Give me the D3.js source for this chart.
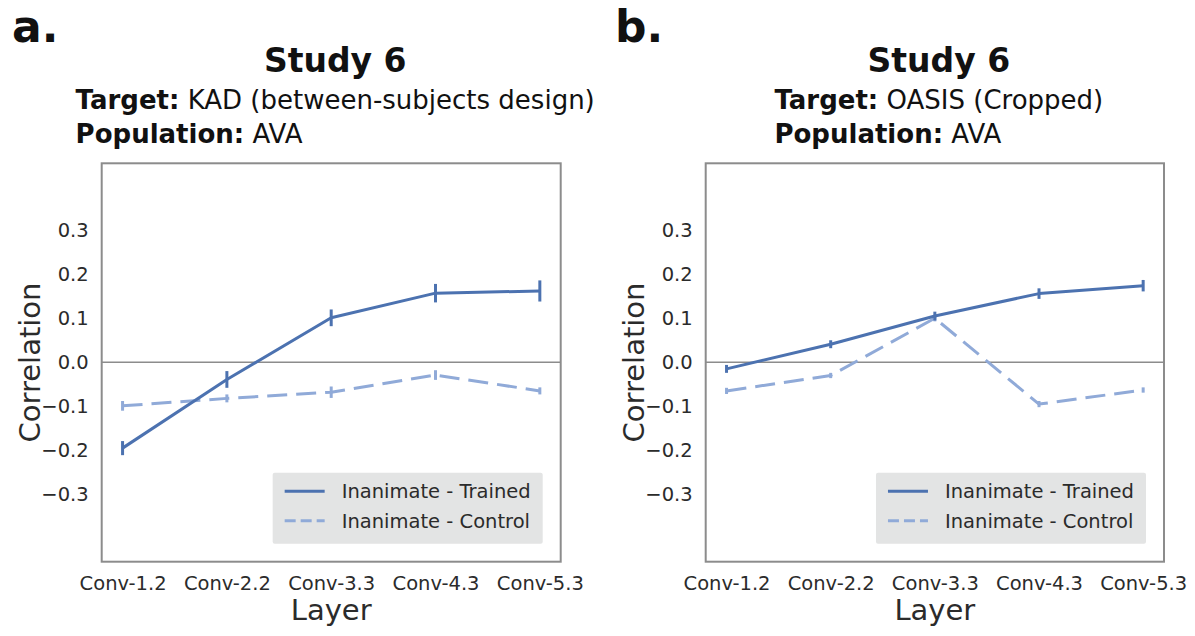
<!DOCTYPE html>
<html>
<head>
<meta charset="utf-8">
<script src="https://cdn.jsdelivr.net/npm/d3@7"></script>
<style>
  html, body { margin: 0; padding: 0; background: #fff; }
  svg { display: block; font-family: "DejaVu Sans", sans-serif; }
</style>
</head>
<body>
<svg id="fig" width="1195" height="636"></svg>
<script>
// Layers of the network on the x axis
const layers = ["Conv-1.2", "Conv-2.2", "Conv-3.3", "Conv-4.3", "Conv-5.3"];
const yTicks = [-0.3, -0.2, -0.1, 0.0, 0.1, 0.2, 0.3];

// Panel a: KAD (between-subjects design)
const aTrained    = [-0.195, -0.039, 0.101, 0.157, 0.162];
const aTrainedErr = [0.016, 0.019, 0.019, 0.021, 0.024];
const aControl    = [-0.099, -0.082, -0.068, -0.029, -0.065];
const aControlErr = [0.011, 0.009, 0.013, 0.011, 0.008];

// Panel b: OASIS (Cropped)
const bTrained    = [-0.015, 0.041, 0.105, 0.156, 0.174];
const bTrainedErr = [0.009, 0.009, 0.010, 0.012, 0.013];
const bControl    = [-0.065, -0.030, 0.100, -0.095, -0.063];
const bControlErr = [0.007, 0.006, 0.007, 0.007, 0.006];

const seriesNames = ["Inanimate - Trained", "Inanimate - Control"];

const panels = [
  { letter: "a.", title: "Study 6", target: "KAD (between-subjects design)", population: "AVA",
    trained: aTrained, trainedErr: aTrainedErr, control: aControl, controlErr: aControlErr,
    left: 101.7, right: 560.7, letterX: 12 },
  { letter: "b.", title: "Study 6", target: "OASIS (Cropped)", population: "AVA",
    trained: bTrained, trainedErr: bTrainedErr, control: bControl, controlErr: bControlErr,
    left: 705.7, right: 1164, letterX: 615 }
];

const TOP = 163.3, BOTTOM = 561.7;
const C_TRAINED = "#4c72b0";
const C_CONTROL = "#90aad8";
const TXT = "#2b2b2b";

const svg = d3.select("#fig");

panels.forEach(p => {
  const g = svg.append("g");
  const x = d3.scalePoint().domain(layers).range([p.left, p.right]).padding(0.2);
  const y = d3.scaleLinear().domain([-0.453, 0.452]).range([BOTTOM, TOP]);
  const cx = (p.left + p.right) / 2;

  // panel letter
  g.append("text").attr("x", p.letterX).attr("y", 42)
    .attr("font-size", 44).attr("font-weight", "bold").attr("fill", "#111")
    .text(p.letter);

  // title
  g.append("text").attr("x", cx + 4).attr("y", 72).attr("text-anchor", "middle")
    .attr("font-size", 33).attr("font-weight", "bold").attr("fill", "#111")
    .text(p.title);

  // subtitle block: left-aligned lines, block centred on the axes
  const sub = g.append("g");
  const l1 = sub.append("text").attr("y", 109).attr("font-size", 26).attr("fill", "#111");
  l1.append("tspan").attr("font-weight", "bold").text("Target:");
  l1.append("tspan").text(" " + p.target);
  const l2 = sub.append("text").attr("y", 143).attr("font-size", 26).attr("fill", "#111");
  l2.append("tspan").attr("font-weight", "bold").text("Population:");
  l2.append("tspan").text(" " + p.population);
  const w = Math.max(l1.node().getComputedTextLength(), l2.node().getComputedTextLength());
  sub.selectAll("text").attr("x", cx + 4 - w / 2);

  // zero reference line
  g.append("line").attr("x1", p.left).attr("x2", p.right)
    .attr("y1", y(0)).attr("y2", y(0))
    .attr("stroke", "#8c8c8c").attr("stroke-width", 1.6);

  // y tick labels
  const yAxis = d3.axisLeft(y).tickValues(yTicks).tickSize(0).tickPadding(13)
    .tickFormat(d3.format(".1f"));
  const ya = g.append("g").attr("transform", `translate(${p.left},0)`).call(yAxis);
  ya.select(".domain").remove();
  ya.selectAll("text").attr("font-size", 19.5).attr("fill", TXT)
    .attr("font-family", "DejaVu Sans, sans-serif");

  // x tick labels
  const xAxis = d3.axisBottom(x).tickSize(0).tickPadding(14);
  const xa = g.append("g").attr("transform", `translate(0,${BOTTOM})`).call(xAxis);
  xa.select(".domain").remove();
  xa.selectAll("text").attr("font-size", 19.5).attr("fill", TXT)
    .attr("font-family", "DejaVu Sans, sans-serif");

  // axis titles
  g.append("text").attr("x", cx).attr("y", 620).attr("text-anchor", "middle")
    .attr("font-size", 29).attr("fill", TXT).text("Layer");
  g.append("text")
    .attr("transform", `translate(${p.left - 62},${(TOP + BOTTOM) / 2}) rotate(-90)`)
    .attr("text-anchor", "middle").attr("font-size", 29).attr("fill", TXT)
    .text("Correlation");

  const line = d3.line().x((d, i) => x(layers[i])).y(d => y(d));

  const drawSeries = (vals, errs, color, dash) => {
    const s = g.append("g");
    s.append("path").datum(vals).attr("d", line)
      .attr("fill", "none").attr("stroke", color).attr("stroke-width", 3)
      .attr("stroke-linejoin", "round")
      .attr("stroke-dasharray", dash);
    s.selectAll("line.err").data(vals).join("line").attr("class", "err")
      .attr("x1", (d, i) => x(layers[i])).attr("x2", (d, i) => x(layers[i]))
      .attr("y1", (d, i) => y(d - errs[i])).attr("y2", (d, i) => y(d + errs[i]))
      .attr("stroke", color).attr("stroke-width", 3);
  };
  drawSeries(p.control, p.controlErr, C_CONTROL, "20,9");
  drawSeries(p.trained, p.trainedErr, C_TRAINED, null);

  // axes frame
  g.append("rect").attr("x", p.left).attr("y", TOP)
    .attr("width", p.right - p.left).attr("height", BOTTOM - TOP)
    .attr("fill", "none").attr("stroke", "#8c8c8c").attr("stroke-width", 2);

  // legend
  const leg = g.append("g");
  const box = leg.append("rect").attr("fill", "#e3e4e4").attr("rx", 2);
  const items = [
    { name: seriesNames[0], color: C_TRAINED, dash: null },
    { name: seriesNames[1], color: C_CONTROL, dash: "11,5" }
  ];
  let maxW = 0;
  items.forEach((it, i) => {
    const yy = 18.5 + i * 29.5;
    leg.append("line").attr("x1", 12).attr("x2", 52).attr("y1", yy).attr("y2", yy)
      .attr("stroke", it.color).attr("stroke-width", 3).attr("stroke-dasharray", it.dash);
    const t = leg.append("text").attr("x", 69).attr("y", yy + 7)
      .attr("font-size", 19.5).attr("fill", TXT).text(it.name);
    maxW = Math.max(maxW, t.node().getComputedTextLength());
  });
  const bw = 69 + maxW + 12, bh = 71;
  box.attr("width", bw).attr("height", bh);
  leg.attr("transform", `translate(${p.right - 18 - bw},${BOTTOM - 18 - bh})`);
});
</script>
</body>
</html>
